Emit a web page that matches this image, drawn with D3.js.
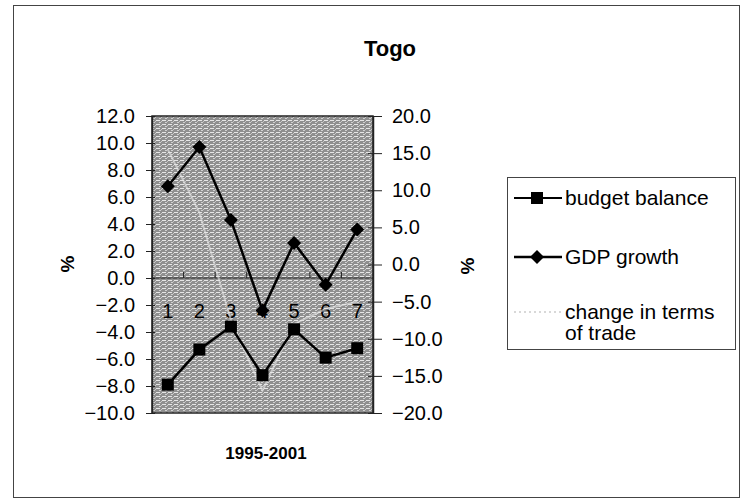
<!DOCTYPE html>
<html>
<head>
<meta charset="utf-8">
<script src="https://cdn.jsdelivr.net/npm/d3@7"></script>
<style>
  body { margin: 0; background: #fff; }
  svg { display: block; }
  text { font-family: "Liberation Sans", Arial, sans-serif; fill: #000; }
</style>
</head>
<body>
<svg id="chart" width="742" height="502"></svg>
<script>
// ---- data ----
const categories = ["1", "2", "3", "4", "5", "6", "7"];
const budgetBalance = [-7.9, -5.3, -3.6, -7.2, -3.8, -5.9, -5.2];
const gdpGrowth = [6.8, 9.7, 4.3, -2.4, 2.6, -0.5, 3.6];
const termsOfTrade = [15.5, 7.0, -7.5, -17.0, -8.0, -6.0, -5.0];
const leftTicks = [12, 10, 8, 6, 4, 2, 0, -2, -4, -6, -8, -10];
const rightTicks = [20, 15, 10, 5, 0, -5, -10, -15, -20];
const seriesNames = ["budget balance", "GDP growth", "change in terms of trade"];
const titleText = "Togo";
const xTitle = "1995-2001";

const svg = d3.select("#chart");

// outer border
svg.append("rect").attr("x", 13.5).attr("y", 5.5).attr("width", 726).attr("height", 492)
  .attr("fill", "#fff").attr("stroke", "#444").attr("stroke-width", 1);

const plot = { left: 152, right: 373, top: 116, bottom: 413 };

const x = d3.scaleBand().domain(categories).range([plot.left, plot.right]).padding(0);
const yL = d3.scaleLinear().domain([-10, 12]).range([plot.bottom, plot.top]);
const yR = d3.scaleLinear().domain([-20, 20]).range([plot.bottom, plot.top]);

// hatched gray pattern
const defs = svg.append("defs");
const pat = defs.append("pattern").attr("id", "hatch").attr("patternUnits", "userSpaceOnUse")
  .attr("width", 6).attr("height", 4);
pat.append("rect").attr("width", 6).attr("height", 4).attr("fill", "#8f8f8f");
pat.append("rect").attr("x", 0).attr("y", 0).attr("width", 4).attr("height", 1).attr("fill", "#e6e6e6");
pat.append("rect").attr("x", 3).attr("y", 2).attr("width", 2).attr("height", 1).attr("fill", "#d0d0d0");
pat.append("rect").attr("x", 5).attr("y", 1).attr("width", 1).attr("height", 1).attr("fill", "#c8c8c8");

svg.append("rect").attr("x", plot.left).attr("y", plot.top)
  .attr("width", plot.right - plot.left).attr("height", plot.bottom - plot.top)
  .attr("fill", "url(#hatch)").attr("stroke", "#222").attr("stroke-width", 1.5);

// left axis
const leftAxis = d3.axisLeft(yL).tickValues(leftTicks).tickFormat(d3.format(".1f")).tickSizeInner(5).tickSizeOuter(0).tickPadding(12);
const gL = svg.append("g").attr("transform", `translate(${plot.left},0)`).call(leftAxis);
gL.select(".domain").attr("stroke", "#222").attr("stroke-width", 1.5);
gL.selectAll(".tick line").attr("stroke", "#222").attr("x2", -6).attr("x1", 3);
gL.selectAll(".tick text").attr("font-size", 20).attr("font-family", "Liberation Sans, Arial, sans-serif").attr("fill", "#000");

// right axis
const rightAxis = d3.axisRight(yR).tickValues(rightTicks).tickFormat(d3.format(".1f")).tickSizeInner(5).tickSizeOuter(0).tickPadding(14);
const gR = svg.append("g").attr("transform", `translate(${plot.right},0)`).call(rightAxis);
gR.select(".domain").attr("stroke", "#222").attr("stroke-width", 1.5);
gR.selectAll(".tick line").attr("stroke", "#222").attr("x1", -5).attr("x2", 9);
gR.selectAll(".tick text").attr("font-size", 20).attr("font-family", "Liberation Sans, Arial, sans-serif").attr("fill", "#000");

// category axis at left zero
const y0 = yL(0);
svg.append("line").attr("x1", plot.left).attr("x2", plot.right).attr("y1", y0).attr("y2", y0)
  .attr("stroke", "#222").attr("stroke-width", 1.2);
categories.slice(1).forEach(c => {
  svg.append("line").attr("x1", x(c)).attr("x2", x(c)).attr("y1", y0 - 6).attr("y2", y0)
    .attr("stroke", "#222").attr("stroke-width", 1);
});
svg.append("g").selectAll("text").data(categories).join("text")
  .attr("x", d => x(d) + x.bandwidth() / 2).attr("y", y0 + 40)
  .attr("text-anchor", "middle").attr("font-size", 20).text(d => d);

// terms of trade (faint white line, right axis)
const lineR = d3.line().x((d, i) => x(categories[i]) + x.bandwidth() / 2).y(d => yR(d));
svg.append("path").datum(termsOfTrade).attr("d", lineR).attr("fill", "none")
  .attr("stroke", "#e8e8e8").attr("stroke-width", 2).attr("opacity", 0.6);

// budget balance
const lineL = d3.line().x((d, i) => x(categories[i]) + x.bandwidth() / 2).y(d => yL(d));
svg.append("path").datum(budgetBalance).attr("d", lineL).attr("fill", "none")
  .attr("stroke", "#000").attr("stroke-width", 2.5);
svg.append("g").selectAll("rect").data(budgetBalance).join("rect")
  .attr("x", (d, i) => x(categories[i]) + x.bandwidth() / 2 - 6)
  .attr("y", d => yL(d) - 6).attr("width", 12).attr("height", 12).attr("fill", "#000");

// GDP growth
svg.append("path").datum(gdpGrowth).attr("d", lineL).attr("fill", "none")
  .attr("stroke", "#000").attr("stroke-width", 2.5);
const diamond = "M0,-7L7,0L0,7L-7,0Z";
svg.append("g").selectAll("path").data(gdpGrowth).join("path")
  .attr("transform", (d, i) => `translate(${x(categories[i]) + x.bandwidth() / 2},${yL(d)})`)
  .attr("d", diamond).attr("fill", "#000");

// titles
svg.append("text").attr("x", 390).attr("y", 56).attr("text-anchor", "middle")
  .attr("font-size", 22).attr("font-weight", "bold").text(titleText);
svg.append("text").attr("x", 266).attr("y", 459).attr("text-anchor", "middle")
  .attr("font-size", 17).attr("font-weight", "bold").text(xTitle);
svg.append("text").attr("transform", "translate(74,264) rotate(-90)").attr("text-anchor", "middle")
  .attr("font-size", 19).attr("font-weight", "bold").text("%");
svg.append("text").attr("transform", "translate(474,266) rotate(-90)").attr("text-anchor", "middle")
  .attr("font-size", 19).attr("font-weight", "bold").text("%");

// legend
const lg = svg.append("g");
lg.append("rect").attr("x", 507.5).attr("y", 177.5).attr("width", 228).attr("height", 172)
  .attr("fill", "#fff").attr("stroke", "#444").attr("stroke-width", 1);
const legendY = [198, 257, 312];
const fsL = 21;
// budget balance
lg.append("line").attr("x1", 514).attr("x2", 562).attr("y1", legendY[0]).attr("y2", legendY[0]).attr("stroke", "#000").attr("stroke-width", 2);
lg.append("rect").attr("x", 531).attr("y", legendY[0] - 6).attr("width", 12).attr("height", 12).attr("fill", "#000");
lg.append("text").attr("x", 565).attr("y", legendY[0] + 7).attr("font-size", fsL).text(seriesNames[0]);
// GDP growth
lg.append("line").attr("x1", 514).attr("x2", 562).attr("y1", legendY[1]).attr("y2", legendY[1]).attr("stroke", "#000").attr("stroke-width", 2.5);
lg.append("path").attr("transform", `translate(537,${legendY[1]})`).attr("d", diamond).attr("fill", "#000");
lg.append("text").attr("x", 565).attr("y", legendY[1] + 7).attr("font-size", fsL).text(seriesNames[1]);
// terms of trade
lg.append("line").attr("x1", 514).attr("x2", 562).attr("y1", legendY[2]).attr("y2", legendY[2]).attr("stroke", "#ccc").attr("stroke-width", 1.5).attr("stroke-dasharray", "2,3");
const tt = lg.append("text").attr("x", 565).attr("y", legendY[2] + 7).attr("font-size", fsL);
tt.append("tspan").attr("x", 565).text("change in terms");
tt.append("tspan").attr("x", 565).attr("dy", 21).text("of trade");
</script>
</body>
</html>
